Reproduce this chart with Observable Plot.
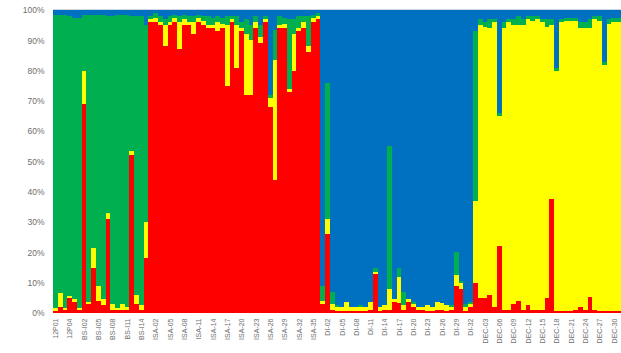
<!DOCTYPE html>
<html>
<head>
<meta charset="utf-8">
<script src="https://cdn.jsdelivr.net/npm/d3@7"></script>
<script src="https://cdn.jsdelivr.net/npm/@observablehq/plot@0.6"></script>
<style>
  html, body { margin: 0; padding: 0; background: #ffffff; }
  #chart { width: 621px; height: 353px; overflow: hidden; }
</style>
</head>
<body>
<div id="chart"></div>
<script>
// Cluster membership (%) per individual, stacked bottom-to-top: K1 (red), K2 (yellow), K3 (green), K4 (blue)
const red = [
  0.5, 2, 1, 5, 3.5, 1, 69, 3, 15, 4, 2.5, 31, 1, 1, 1, 1, 52, 3, 1, 18,
  96, 96, 95, 88, 95, 96, 87, 95, 95, 92, 96, 95, 94, 94, 93, 94, 75, 96, 81, 93,
  72, 72, 94, 89, 96, 68, 44, 94, 94, 73, 80, 93, 94, 86, 96, 97,
  3, 26, 1, 0.5, 0.5, 0.5, 0.5, 0.5, 0.5, 0.5, 1, 13, 0.5, 1, 1, 3.5, 3.3, 1, 3.6, 2,
  1, 1, 0.5, 0.5, 1, 1, 0.5, 1, 9, 8, 0.5, 2, 10,
  5, 5, 6, 2, 22, 1, 1, 3, 4, 1, 2.8, 1, 1, 1, 5, 37.6, 0.5, 0.7, 0.7, 0.7,
  1, 2, 1, 5.3, 1, 0.8, 0.8, 0.8, 0.8, 0.8
];
const yellow = [
  1, 4.5, 0.5, 0.5, 1, 0.5, 11, 0.5, 6.5, 5, 2, 2, 2, 0.5, 2, 1, 1.5, 3, 1.5, 12,
  1, 1.5, 1, 7, 1, 1.5, 9, 2, 1, 4, 1.5, 1.5, 1, 1, 3, 1.5, 20, 1, 14, 1,
  20, 18, 2, 2, 1, 3, 39.5, 1, 1.5, 1, 12, 1, 2, 2, 1.5, 1,
  1, 5, 2, 1.5, 1.5, 3, 1.5, 1.5, 1.5, 1.5, 2.5, 0.5, 1.5, 1.5, 7, 1, 8.7, 1.5, 1, 1,
  1, 1, 2, 1.5, 2.6, 2.3, 2, 1, 3.5, 2, 1.5, 1, 27,
  90, 89.5, 88, 94, 43, 93, 95, 92, 91, 94, 94.2, 95.5, 96, 95, 89.5, 57.4, 79.5, 95.3, 95.8, 95.8,
  95.5, 92, 93, 88.7, 96, 95.7, 81.2, 94.7, 95.2, 95.2
];
const green = [
  97, 92, 97, 92.5, 93, 96, 18.5, 95, 77, 89.5, 94, 65, 95, 97, 95.5, 96.5, 44.5, 92, 95.5, 65,
  1, 1.5, 2, 2, 2, 1, 2, 1.5, 2, 2, 1, 1.5, 3, 2.5, 2, 2, 3, 1, 3, 2,
  5, 5, 2, 4, 1, 1, 10, 3, 2, 23, 5, 4, 2, 10, 1, 1,
  5, 45, 4, 0.5, 0, 0, 0, 0, 0.5, 0, 0, 1.5, 0, 0, 47, 0, 3, 4.5, 0, 0.5,
  0, 0, 0, 0, 0, 0, 0, 0.5, 7.5, 0.5, 1, 0.5, 56,
  2, 1.5, 3, 1, 1, 2, 1, 2, 3, 2, 1, 1.5, 1, 1, 2.5, 2, 1, 1, 1, 1,
  1, 2, 2, 3, 1, 1.5, 1, 1.5, 1.5, 1.5
];
const blue = [
  1.5, 1.5, 1.5, 2, 2.5, 2.5, 1.5, 1.5, 1.5, 1.5, 1.5, 2, 2, 1.5, 1.5, 1.5, 2, 2, 2, 5,
  2, 1, 2, 3, 2, 1.5, 2, 1.5, 2, 2, 1.5, 2, 2, 2.5, 2, 2.5, 2, 2, 2, 4,
  3, 5, 2, 5, 2, 28, 6.5, 2, 2.5, 3, 3, 2, 2, 2, 1.5, 1,
  91, 24, 93, 97.5, 98, 96.5, 98, 98, 97.5, 98, 96.5, 85, 98, 97.5, 45, 95.5, 85, 93, 95.4, 96.5,
  98, 98, 97.5, 98, 96.4, 96.7, 97.5, 97.5, 80, 89.5, 97, 96.5, 7,
  3, 4, 3, 3, 34, 4, 3, 3, 2, 3, 2, 2, 2, 3, 3, 3, 19, 3, 2.5, 2.5,
  2.5, 4, 4, 3, 2, 2, 17, 3, 2.5, 2.5
];

// Tick labels shown under every third individual
const tickLabels = [
  "12P01", "12P04", "BS-I02", "BS-I05", "BS-I08", "BS-I11", "BS-I14",
  "ISA-02", "ISA-05", "ISA-08", "ISA-11", "ISA-14", "ISA-17", "ISA-20", "ISA-23", "ISA-26", "ISA-29", "ISA-32", "ISA-35",
  "DI-02", "DI-05", "DI-08", "DI-11", "DI-14", "DI-17", "DI-20", "DI-23", "DI-26", "DI-29", "DI-32",
  "DEC-03", "DEC-06", "DEC-09", "DEC-12", "DEC-15", "DEC-18", "DEC-21", "DEC-24", "DEC-27", "DEC-30"
];
const yTicks = [0, 10, 20, 30, 40, 50, 60, 70, 80, 90, 100];

const clusters = ["K1", "K2", "K3", "K4"];
const clusterColors = ["#FF0000", "#FFFF00", "#00B050", "#0070C0"];
const series = { K1: red, K2: yellow, K3: green, K4: blue };

const n = red.length;
const ids = d3.range(n);
const rows = [];
for (const i of ids) {
  for (const k of clusters) rows.push({ i, k, v: series[k][i] });
}
const tickIdx = tickLabels.map((_, j) => j * 3);

const chart = Plot.plot({
  width: 621,
  height: 353,
  marginLeft: 53,
  marginRight: 0,
  marginTop: 10,
  marginBottom: 40,
  style: { fontFamily: "'Liberation Sans', Arial, sans-serif", fontSize: "8px", color: "#6e6e6e", background: "#ffffff" },
  x: {
    type: "band",
    domain: ids,
    padding: 0,
    ticks: tickIdx,
    tickFormat: i => tickLabels[i / 3],
    tickRotate: -90,
    tickSize: 0,
    tickPadding: 5,
    label: null
  },
  y: {
    domain: [0, 100],
    ticks: yTicks,
    tickFormat: d => d + "%",
    tickSize: 0,
    tickPadding: 9,
    label: null
  },
  color: { type: "ordinal", domain: clusters, range: clusterColors },
  marks: [
    Plot.barY(rows, { x: "i", y: "v", fill: "k", shapeRendering: "crispEdges" }),
    Plot.ruleY([100], { stroke: "#cdd6e3", strokeWidth: 1, dy: -1 })
  ]
});
document.getElementById("chart").appendChild(chart);

chart.querySelectorAll("g[aria-label^='x-axis'] text").forEach(t => t.setAttribute("font-size", "7px"));
chart.querySelectorAll("g[aria-label^='y-axis'] text").forEach(t => t.setAttribute("font-size", "8.5px"));
</script>
</body>
</html>
